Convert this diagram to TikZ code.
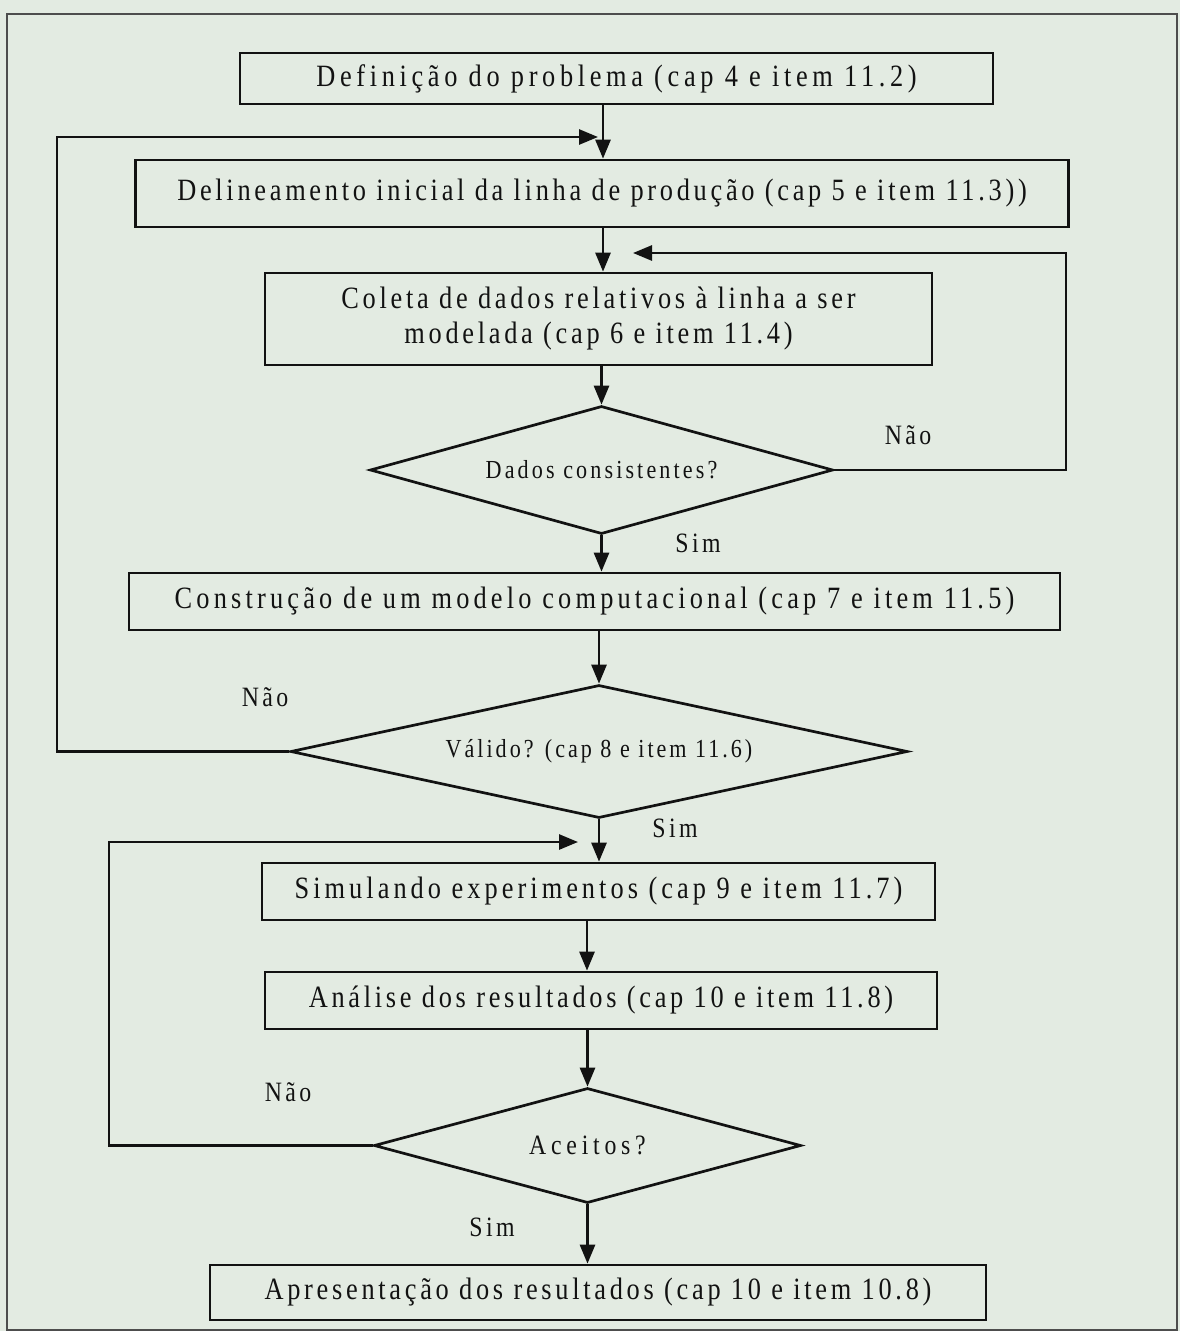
\documentclass[tikz,border=0pt]{standalone}
\usepackage{fontspec}
\setmainfont{Liberation Serif}
\newfontfamily\chartfont{Liberation Serif}[FakeStretch=0.85,LetterSpace=12]
\usetikzlibrary{arrows.meta,shapes.geometric}
\definecolor{paper}{RGB}{227,235,226}
\definecolor{ink}{RGB}{18,18,18}
\begin{document}
\begin{tikzpicture}[x=1pt,y=-1pt,
  line width=2.7pt,
  stepbox/.style={draw=ink,rectangle,inner sep=0pt,align=center,text=ink,
    font=\chartfont\fontsize{31}{35}\selectfont},
  decision/.style={draw=ink,diamond,inner sep=0pt,align=center,text=ink,
    font=\chartfont\fontsize{26}{30}\selectfont},
  answer/.style={text=ink,inner sep=0pt,font=\chartfont\fontsize{28}{32}\selectfont},
  arr/.style={draw=ink,-{Triangle[length=19pt,width=15pt]}}]

% page and frame
\fill[paper] (0,0) rectangle (1180,1331);
\useasboundingbox (0,0) rectangle (1180,1331);
\draw[ink!75,line width=1.3pt] (7,14) rectangle (1177,1330);

% process steps
\node[stepbox,minimum width=753,minimum height=51] (b1) at (616.5,78.5)
  {\addfontfeature{LetterSpace=15}Definição do problema (cap 4 e item 11.2)};
\node[stepbox,minimum width=933,minimum height=67] (b2) at (602,193.5)
  {Delineamento inicial da linha de produção (cap 5 e item 11.3))};
\node[stepbox,minimum width=667,minimum height=92] (b3) at (598.5,319)
  {Coleta de dados relativos à linha a ser\\modelada (cap 6 e item 11.4)};
\node[decision,aspect=3.6,minimum width=463,minimum height=128] (d1) at (601.5,470)
  {Dados consistentes?};
\node[stepbox,minimum width=931,minimum height=57] (b4) at (594.5,601.5)
  {\addfontfeature{LetterSpace=13.5}Construção de um modelo computacional (cap 7 e item 11.5)};
\node[decision,aspect=4.6,minimum width=617,minimum height=133] (d2) at (599,751.5)
  {\addfontfeature{LetterSpace=11.5}Válido? (cap 8 e item 11.6)};
\node[stepbox,minimum width=673,minimum height=57] (b5) at (598.5,891.5)
  {\addfontfeature{LetterSpace=13}Simulando experimentos (cap 9 e item 11.7)};
\node[stepbox,minimum width=672,minimum height=57] (b6) at (601,1000.5)
  {Análise dos resultados (cap 10 e item 11.8)};
\node[decision,aspect=3.7,minimum width=427,minimum height=115] (d3) at (587.5,1145.5)
  {\addfontfeature{LetterSpace=17}\fontsize{28}{32}\selectfont Aceitos?};
\node[stepbox,minimum width=776,minimum height=55] (b7) at (598,1292.5)
  {Apresentação dos resultados (cap 10 e item 10.8)};

% answers
\node[answer] (n1) at (908,435) {Não};
\node[answer] (s1) at (698,543) {Sim};
\node[answer] (n2) at (265,697) {Não};
\node[answer] (s2) at (675,828) {Sim};
\node[answer] (n3) at (288,1092) {Não};
\node[answer] (s3) at (492,1227) {Sim};

% columns and loop corners
\coordinate (c1) at (603,0);
\coordinate (c5) at (587,0);
\coordinate (v1) at (57,137);
\coordinate (t1) at (598,137);
\coordinate (r1) at (1066,253);
\coordinate (t2) at (633,253);
\coordinate (v3) at (109,842);
\coordinate (t3) at (578,842);

% main flow
\draw[arr] (b1.south -| c1) -- (b2.north -| c1);
\draw[arr] (b2.south -| c1) -- (b3.north -| c1);
\draw[arr] (b3.south -| d1.north) -- (d1.north);
\draw[arr] (d1.south) -- (d1.south |- b4.north);
\draw[arr] (b4.south -| d2.north) -- (d2.north);
\draw[arr] (d2.south) -- (d2.south |- b5.north);
\draw[arr] (b5.south -| c5) -- (b6.north -| c5);
\draw[arr] (b6.south -| d3.north) -- (d3.north);
\draw[arr] (d3.south) -- (d3.south |- b7.north);

% return paths
\draw[arr] (d1.east) -| (r1) -- (t2);
\draw[arr] (d2.west) -| (v1) -- (t1);
\draw[arr] (d3.west) -| (v3) -- (t3);
\end{tikzpicture}
\end{document}
